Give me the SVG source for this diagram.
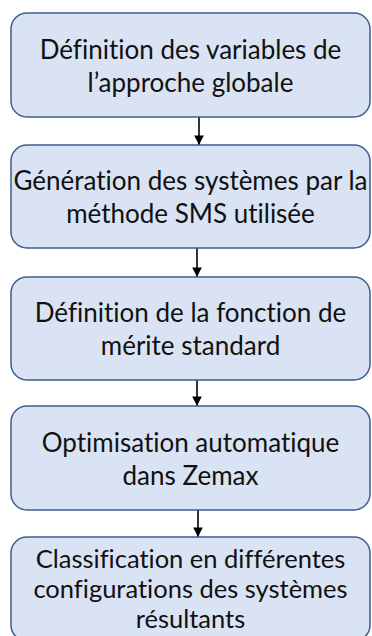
<svg xmlns="http://www.w3.org/2000/svg" width="372" height="636" viewBox="0 0 372 636">
<style>
.box{fill:#dae3f3;stroke:#3a5f8f;stroke-width:1.5}
.t{font-family:Lato,"Open Sans","Liberation Sans",sans-serif;font-size:26px;fill:#111;text-anchor:middle;font-variant-ligatures:none;font-feature-settings:"liga" 0,"dlig" 0}
.s{font-size:25.5px}
.c{stroke:#000;stroke-width:1.6;fill:none}
</style>
<defs>
<marker id="ah" viewBox="0 0 10 10" refX="10" refY="5" markerWidth="6" markerHeight="6" orient="auto" markerUnits="strokeWidth">
<path d="M0,0 L10,5 L0,10 z" fill="#000"/>
</marker>
</defs>
<rect width="372" height="636" fill="#fff"/>
<g id="connectors">
<line class="c" x1="199" y1="117" x2="199" y2="145" marker-end="url(#ah)"/>
<line class="c" x1="197" y1="248" x2="197" y2="277" marker-end="url(#ah)"/>
<line class="c" x1="197" y1="380" x2="197" y2="406" marker-end="url(#ah)"/>
<line class="c" x1="198" y1="510" x2="198" y2="537" marker-end="url(#ah)"/>
</g>
<g id="n1">
<rect class="box" x="11" y="13" width="359" height="104" rx="16"/>
<text class="t" x="190.5" y="59">Définition des variables de</text>
<text class="t" x="190.5" y="92">l’approche globale</text>
</g>
<g id="n2">
<rect class="box" x="11" y="145" width="359" height="103" rx="16"/>
<text class="t" x="190.5" y="190">Génération des systèmes par la</text>
<text class="t" x="190.5" y="223">méthode SMS utilisée</text>
</g>
<g id="n3">
<rect class="box" x="11" y="277" width="359" height="103" rx="16"/>
<text class="t" x="190.5" y="322">Définition de la fonction de</text>
<text class="t" x="190.5" y="355">mérite standard</text>
</g>
<g id="n4">
<rect class="box" x="11" y="406" width="359" height="104" rx="16"/>
<text class="t" x="190.5" y="452">Optimisation automatique</text>
<text class="t" x="190.5" y="485">dans Zemax</text>
</g>
<g id="n5">
<rect class="box" x="11" y="537" width="359" height="104" rx="16"/>
<text class="t s" x="190.5" y="568">Classification en différentes</text>
<text class="t s" x="190.5" y="598">configurations des systèmes</text>
<text class="t s" x="190.5" y="628">résultants</text>
</g>
</svg>
